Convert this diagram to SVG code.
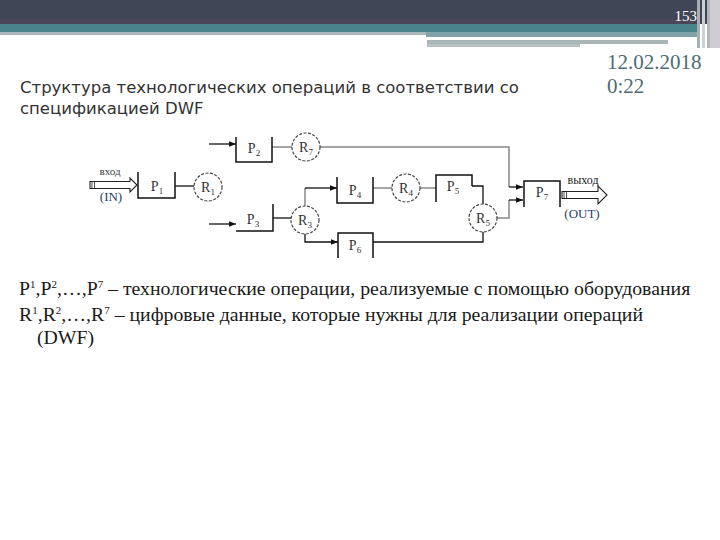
<svg xmlns="http://www.w3.org/2000/svg" width="720" height="540" viewBox="0 0 720 540">
<defs>
<style>
.bx{fill:none;stroke:#111;stroke-width:1.5}
.ln{fill:none;stroke:#111;stroke-width:1.3}
.lg{fill:none;stroke:#888;stroke-width:1.5}
.rc{fill:#fff;stroke:#444;stroke-width:1.2;stroke-dasharray:3 1.5}
.nl{font-family:"Liberation Serif","DejaVu Serif",serif;font-size:14px;fill:#333;text-anchor:middle}
.sb{font-size:9px}
.body{font-family:"Liberation Serif","DejaVu Serif",serif;font-size:19.8px;fill:#1a1a1a}
.sup{font-size:11px}
.hol{fill:#fff;stroke:#222;stroke-width:1.1}
</style>
<marker id="ar" viewBox="0 0 10 10" refX="10" refY="5" markerWidth="7" markerHeight="7" markerUnits="userSpaceOnUse" orient="auto">
<path d="M0,1 L10,5 L0,9 Z" fill="#111"/>
</marker>
</defs>
<rect width="720" height="540" fill="#fff"/>
<g id="header">
<rect x="0" y="0" width="720" height="20" fill="#414656"/>
<rect x="0" y="19" width="720" height="5" fill="#4a4558"/>
<rect x="0" y="24" width="700" height="8" fill="#4a8289"/>
<rect x="0" y="32" width="426" height="3" fill="#a8b8bc"/>
<rect x="426" y="32" width="274" height="5" fill="#7fa3a8"/>
<rect x="427" y="40" width="241" height="4" fill="#a9b6b8"/>
<rect x="427" y="44" width="153" height="3" fill="#b4c0c2"/>
<rect x="697" y="0" width="3" height="48" fill="#a7b0b4"/>
<rect x="702" y="0" width="3" height="48" fill="#c9d1d4"/>
<rect x="707" y="0" width="3" height="48" fill="#b0b6ba"/>
<rect x="710" y="0" width="10" height="48" fill="#cfccd6"/>
<text x="697" y="21" font-family="Liberation Serif,serif" font-size="15" fill="#fff" text-anchor="end">153</text>
</g>
<g id="title" font-family="DejaVu Sans,sans-serif" font-size="16.5" fill="#333">
<text x="20" y="93">Структура технологических операций в соответствии со</text>
<text x="20" y="114">спецификацией DWF</text>
</g>
<g id="date" font-family="Liberation Serif,serif" font-size="21" fill="#4d6b73">
<text x="607" y="69">12.02.2018</text>
<text x="607" y="93">0:22</text>
</g>
<g id="connectors">
<path class="ln" d="M175,186 H194"/>
<path class="ln" d="M209,144 H236" marker-end="url(#ar)"/>
<path class="lg" d="M272,147 H292"/>
<path class="lg" d="M320,147 H509 V187"/>
<path class="ln" d="M509,187 H523" marker-end="url(#ar)"/>
<path class="ln" d="M209,224 H236" marker-end="url(#ar)"/>
<path class="ln" d="M273,218 H292"/>
<path class="lg" d="M305,206 V188"/>
<path class="ln" d="M305,188 H337" marker-end="url(#ar)"/>
<path class="ln" d="M305,234 V242 H338" marker-end="url(#ar)"/>
<path class="lg" d="M373,188 H392"/>
<path class="lg" d="M420,188 H436"/>
<path class="ln" d="M472,186 H483 V204"/>
<path class="lg" d="M497,218 H509 V200"/>
<path class="ln" d="M509,200 H523" marker-end="url(#ar)"/>
<path class="ln" d="M373,242 H483 V232"/>
</g>
<g id="in">
<path class="hol" d="M90,181.5 H130 V178 L137,185 L130,192 V188.5 H90 Z"/>
<path d="M92,181.5 V188.5 M94.5,181.5 V188.5" stroke="#222" stroke-width="0.8"/>
<text x="110" y="175" font-family="Liberation Serif,serif" font-size="11" fill="#444" text-anchor="middle">вход</text>
<text x="111" y="201" font-family="Liberation Serif,serif" font-size="13" fill="#2a3e66" text-anchor="middle">(IN)</text>
</g>
<g id="out">
<path class="hol" d="M562,191.5 H598 V186 L607,195 L598,204 V198.5 H562 Z"/>
<path d="M564,191.5 V198.5 M566.5,191.5 V198.5" stroke="#222" stroke-width="0.8"/>
<text x="583" y="184" font-family="Liberation Serif,serif" font-size="12" fill="#222" text-anchor="middle">выход</text>
<text x="582" y="218" font-family="Liberation Serif,serif" font-size="13" fill="#2a3e66" text-anchor="middle">(OUT)</text>
</g>
<g id="P1"><path class="bx" d="M138,172 V198 H175 V172"/><text class="nl" x="157" y="191">P<tspan class="sb" dy="3">1</tspan></text></g>
<g id="R1"><circle class="rc" cx="208" cy="187" r="14"/><text class="nl" x="208" y="192">R<tspan class="sb" dy="3">1</tspan></text></g>
<g id="P2"><path class="bx" d="M236,137 V162 H272 V137"/><text class="nl" x="254" y="153">P<tspan class="sb" dy="3">2</tspan></text></g>
<g id="R7"><circle class="rc" cx="306" cy="147" r="14"/><text class="nl" x="306" y="152">R<tspan class="sb" dy="3">7</tspan></text></g>
<g id="P3"><path class="bx" d="M236,231 H273 V204"/><text class="nl" x="253" y="224">P<tspan class="sb" dy="3">3</tspan></text></g>
<g id="R3"><circle class="rc" cx="305" cy="220" r="14"/><text class="nl" x="305" y="225">R<tspan class="sb" dy="3">3</tspan></text></g>
<g id="P4"><path class="bx" d="M337,177 V203 H373 V177"/><text class="nl" x="355" y="195">P<tspan class="sb" dy="3">4</tspan></text></g>
<g id="R4"><circle class="rc" cx="406" cy="188" r="14"/><text class="nl" x="406" y="193">R<tspan class="sb" dy="3">4</tspan></text></g>
<g id="P5"><path class="bx" d="M436,202 V175 H472 V186"/><text class="nl" x="453" y="191">P<tspan class="sb" dy="3">5</tspan></text></g>
<g id="R5"><circle class="rc" cx="483" cy="218" r="14"/><text class="nl" x="483" y="223">R<tspan class="sb" dy="3">5</tspan></text></g>
<g id="P6"><path class="bx" d="M338,258 V233 H373 V258"/><text class="nl" x="355" y="250">P<tspan class="sb" dy="3">6</tspan></text></g>
<g id="P7"><path class="bx" d="M524,207 V181 H560 V207"/><text class="nl" x="542" y="197">P<tspan class="sb" dy="3">7</tspan></text></g>
<g id="legend">
<text class="body" x="19" y="295">P<tspan class="sup" dy="-7">1</tspan><tspan dy="7">,P</tspan><tspan class="sup" dy="-7">2</tspan><tspan dy="7">,…,P</tspan><tspan class="sup" dy="-7">7</tspan><tspan dy="7"> – технологические операции, реализуемые с помощью оборудования</tspan></text>
<text class="body" x="19" y="321">R<tspan class="sup" dy="-7">1</tspan><tspan dy="7">,R</tspan><tspan class="sup" dy="-7">2</tspan><tspan dy="7">,…,R</tspan><tspan class="sup" dy="-7">7</tspan><tspan dy="7"> – цифровые данные, которые нужны для реализации операций</tspan></text>
<text class="body" x="37" y="344">(DWF)</text>
</g>
</svg>
